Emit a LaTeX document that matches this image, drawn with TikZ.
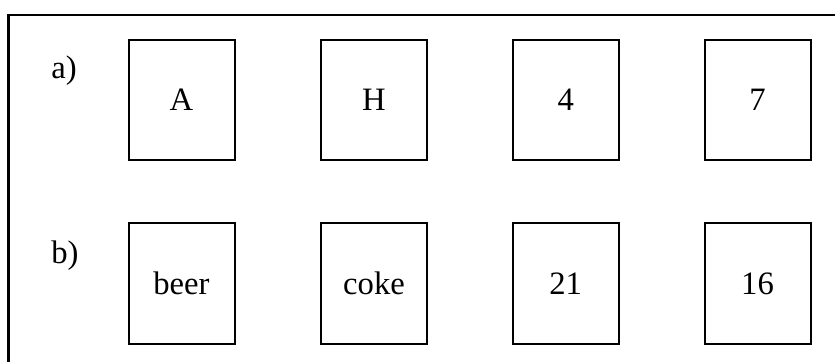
\documentclass[tikz,border=0pt]{standalone}
\usepackage{fontspec}
\setmainfont{Liberation Serif}
\usetikzlibrary{positioning}
\tikzset {
  x=0.75pt, y=-0.75pt,
  % the boxes with a symbol in them
  card/.style = {draw, line width=1.5pt, minimum width=79.5pt, minimum height=90.5pt,
    inner sep=0pt, font=\fontsize{24.5}{28}\selectfont},
  % row labels
  rowlabel/.style = {anchor=west, inner sep=0pt, font=\fontsize{24.5}{28}\selectfont},
  frame/.style = {line width=1.6pt},
}
\begin{document}
\begin{tikzpicture}

        \useasboundingbox (0, 0) rectangle (835, 361);
        \clip (0, 0) rectangle (835, 361);
        \draw[frame] (8.5, 15) rectangle (860, 390);

        \node[rowlabel] (la) at (51, 71) {a)};
        \node[card] (a1) at (181.5, 100) {A};
        \node[card] (a2) at (374, 100) {H};
        \node[card] (a3) at (565.7, 100) {4};
        \node[card] (a4) at (757.5, 100) {7};

        \node[rowlabel] (lb) at (51, 256) {b)};
        \node[card] (b1) at (181.5, 283.5) {beer};
        \node[card] (b2) at (374, 283.5) {coke};
        \node[card] (b3) at (565.7, 283.5) {21};
        \node[card] (b4) at (757.5, 283.5) {16};

      \end{tikzpicture}
\end{document}
